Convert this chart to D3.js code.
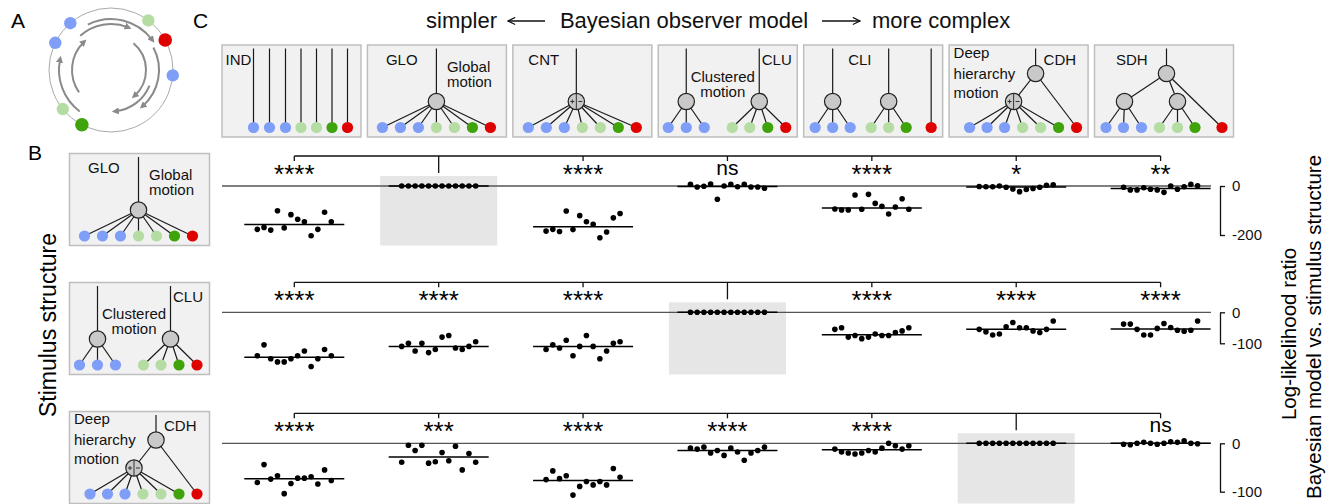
<!DOCTYPE html>
<html>
<head>
<meta charset="utf-8">
<script src="https://cdn.jsdelivr.net/npm/d3@7"></script>
<style>
body { margin: 0; background: #fff; }
svg { display: block; font-family: "Liberation Sans", Arial, Helvetica, sans-serif; }
</style>
</head>
<body>
<svg id="chart" width="1333" height="504"></svg>
<script>
// models, left = simpler, right = more complex
const models = ['IND', 'GLO', 'CNT', 'CLU', 'CLI', 'CDH', 'SDH'];

// log-likelihood ratio (model vs stimulus structure), 12 subjects per model
const llrGLO = [
    [-177, -169, -180, -101, -171, -117, -136, -146, -203, -177, -107, -146],
    [0, 0, 0, 0, 0, 0, 0, 0, 0, 0, 0, 0],
    [-184, -177, -186, -102, -178, -121, -146, -156, -211, -188, -130, -112],
    [7, -4, -1, 8, -54, 0, 7, -3, 7, -4, -4, -9],
    [-94, -98, -98, -37, -95, -34, -71, -83, -114, -86, -52, -95],
    [-2, -3, -3, 0, -5, -12, -23, -14, -10, -5, 3, 5],
    [-5, -16, -16, -7, -13, -16, -26, 0, -13, -3, 7, 1]
];
const llrCLU = [
    [-140, -105, -150, -160, -160, -150, -140, -125, -175, -150, -120, -140],
    [-110, -100, -125, -100, -130, -120, -80, -75, -115, -120, -110, -95],
    [-120, -105, -115, -90, -140, -110, -75, -110, -150, -125, -100, -95],
    [0, 0, 0, 0, 0, 0, 0, 0, 0, 0, 0, 0],
    [-55, -50, -80, -75, -85, -80, -70, -75, -75, -65, -60, -50],
    [-55, -63, -73, -70, -47, -33, -50, -50, -60, -65, -55, -28],
    [-38, -38, -55, -73, -73, -52, -36, -49, -58, -61, -58, -28]
];
const llrCDH = [
    [-81, -44, -74, -67, -104, -83, -72, -72, -69, -84, -55, -77],
    [-39, -4, -15, -4, -41, -38, -19, -36, -6, -55, -21, -39],
    [-75, -57, -73, -67, -107, -89, -79, -86, -79, -86, -52, -70],
    [-10, -12, -8, -20, -15, -25, -10, -18, -35, -20, -15, -8],
    [-12, -18, -20, -22, -20, -15, -18, -10, 0, -5, -12, -5],
    [0, 0, 0, 0, 0, 0, 0, 0, 0, 0, 0, 0],
    [-2, -3, 0, 2, 0, -2, 0, 3, 2, 5, 0, -1]
];

// significance vs the true structure (null = the true structure itself)
const sigGLO = ['****', null, '****', 'ns', '****', '*', '**'];
const sigCLU = ['****', '****', '****', null, '****', '****', '****'];
const sigCDH = ['****', '***', '****', '****', '****', null, 'ns'];

const ticksGLO = [0, -200];
const ticksCLU = [0, -100];
const ticksCDH = [0, -100];

// panel A: dots on the ring (degrees, clockwise from top)
const ringAngles = [-41, -64, 37, 61, 95, -129, -152];
const ringColors = ['#7f9ef8', '#7f9ef8', '#b5dca2', '#df0000', '#7f9ef8', '#b5dca2', '#3fa30c'];

const leafColors = ['#7f9ef8', '#7f9ef8', '#7f9ef8', '#b5dca2', '#b5dca2', '#3fa30c', '#df0000'];

const svg = d3.select('#chart');

//arrow marker
svg.append('defs').append('marker')
    .attr('id', 'head')
    .attr('viewBox', '0 0 10 10')
    .attr('refX', 5).attr('refY', 5)
    .attr('markerWidth', 7).attr('markerHeight', 7)
    .attr('markerUnits', 'userSpaceOnUse')
    .attr('orient', 'auto')
    .append('path')
    .attr('d', 'M0,0L10,5L0,10z')
    .attr('fill', '#8a8a8a');

svg.append('defs').append('marker')
    .attr('id', 'titlehead')
    .attr('viewBox', '0 0 10 10')
    .attr('refX', 9).attr('refY', 5)
    .attr('markerWidth', 9).attr('markerHeight', 9)
    .attr('markerUnits', 'userSpaceOnUse')
    .attr('orient', 'auto')
    .append('path')
    .attr('d', 'M1,1L9,5L1,9')
    .attr('fill', 'none')
    .attr('stroke', '#111')
    .attr('stroke-width', 1.3);

//panel letters
[['A', 11, 28], ['C', 193, 28], ['B', 28, 160]].forEach(([t, x, y]) => {
    svg.append('text').attr('x', x).attr('y', y).attr('font-size', 21).text(t)
})

// ---------- panel A ----------
const ringG = svg.append('g').attr('transform', 'translate(111,70)')
ringG.append('circle').attr('r', 62).attr('fill', 'none').attr('stroke', '#aaa').attr('stroke-width', 1)

const rad = a => (a - 90) * Math.PI / 180
const arcs = [[52, -143, -78], [39, -125, -44], [46, -42, 22], [51, -27, 54], [35, 40, 138], [48, 62, 139], [41.5, 112, 174]]
arcs.forEach(([r, a0, a1]) => {
    const p = d3.path()
    p.moveTo(r * Math.cos(rad(a0)), r * Math.sin(rad(a0)))
    p.arc(0, 0, r, rad(a0), rad(a1), false)
    ringG.append('path')
        .attr('d', p.toString())
        .attr('fill', 'none')
        .attr('stroke', '#8a8a8a')
        .attr('stroke-width', 2)
        .attr('marker-end', 'url(#head)')
})
ringG.selectAll('.ringdot')
    .data(ringAngles)
    .join('circle')
    .attr('class', 'ringdot')
    .attr('cx', d => 62 * Math.cos(rad(d)))
    .attr('cy', d => 62 * Math.sin(rad(d)))
    .attr('r', (d, i) => ringColors[i] === '#df0000' || ringColors[i] === '#3fa30c' ? 6.8 : 6.2)
    .attr('fill', (d, i) => ringColors[i])

// ---------- tree glyphs ----------
function treeSpec(name) {
    const L = i => 'L' + i, H = i => 'H' + i
    const idx = [0, 1, 2, 3, 4, 5, 6]
    switch (name) {
        case 'IND': return {leaves: [32, 48, 64, 79.5, 95, 110.5, 126], hubs: [], links: [], roots: idx.map(L)}
        case 'GLO': return {leaves: [15.5, 33.5, 51.5, 69.5, 87.5, 105.5, 123.5], hubs: [{x: 69.5, y: 57}],
            links: idx.map(i => [L(i), H(0)]), roots: [H(0)]}
        case 'CNT': return {leaves: [16, 34, 52, 70, 88, 106, 124], hubs: [{x: 64, y: 57, split: true}],
            links: idx.map(i => [L(i), H(0)]), roots: [H(0)]}
        case 'CLU': return {leaves: [10.5, 28.5, 46.5, 74.5, 92, 110, 128], hubs: [{x: 28.5, y: 57}, {x: 101.5, y: 57}],
            links: idx.map(i => [L(i), H(i < 3 ? 0 : 1)]), roots: [H(0), H(1)]}
        case 'CLI': return {leaves: [12, 29.5, 47, 68, 85.5, 103, 128], hubs: [{x: 29.5, y: 57}, {x: 85.5, y: 57}],
            links: idx.slice(0, 6).map(i => [L(i), H(i < 3 ? 0 : 1)]), roots: [H(0), H(1), L(6)]}
        case 'CDH': return {leaves: [21, 38.5, 56, 74, 92, 110, 128], hubs: [{x: 87, y: 29}, {x: 65, y: 57, split: true}],
            links: idx.slice(0, 6).map(i => [L(i), H(1)]).concat([[H(1), H(0)], [L(6), H(0)]]), roots: [H(0)]}
        case 'SDH': return {leaves: [12, 29.5, 47.5, 65.5, 83.5, 101, 128], hubs: [{x: 72.5, y: 29}, {x: 30.5, y: 57}, {x: 83.5, y: 57}],
            links: idx.slice(0, 6).map(i => [L(i), H(i < 3 ? 1 : 2)]).concat([[H(1), H(0)], [H(2), H(0)], [L(6), H(0)]]), roots: [H(0)]}
    }
}

const treeLabels = {
    IND: [['IND', 4, 20]],
    GLO: [['GLO', 19, 20], ['Global', 80, 27], ['motion', 80, 42]],
    CNT: [['CNT', 16, 20]],
    CLU: [['CLU', 104, 20], ['Clustered', 65, 37, 'middle'], ['motion', 65, 52, 'middle']],
    CLI: [['CLI', 45, 20]],
    CDH: [['Deep', 5, 13], ['hierarchy', 5, 34], ['motion', 5, 53], ['CDH', 95, 20]],
    SDH: [['SDH', 22, 20]]
}

function drawTree(g, name, w, h) {
    g.append('rect')
        .attr('x', 0.5).attr('y', 0.5)
        .attr('width', w).attr('height', h)
        .attr('fill', '#f1f1f1')
        .attr('stroke', '#bebebe')
        .attr('stroke-width', 1.5)

    const spec = treeSpec(name),
          leafY = 83
    const pos = ref => {
        const i = +ref.slice(1)
        return ref[0] === 'L' ? {x: spec.leaves[i], y: leafY} : spec.hubs[i]
    }
    const lines = g.append('g').attr('stroke', '#1a1a1a').attr('stroke-width', 1.2)
    spec.roots.forEach(r => {
        const p = pos(r)
        lines.append('line').attr('x1', p.x).attr('x2', p.x).attr('y1', 4).attr('y2', p.y)
    })
    spec.links.forEach(([a, b]) => {
        const p = pos(a), q = pos(b)
        lines.append('line').attr('x1', p.x).attr('y1', p.y).attr('x2', q.x).attr('y2', q.y)
    })

    g.selectAll('.leaf')
        .data(spec.leaves)
        .join('circle')
        .attr('class', 'leaf')
        .attr('cx', d => d).attr('cy', leafY)
        .attr('r', 5.6)
        .attr('fill', (d, i) => leafColors[i])

    spec.hubs.forEach(hb => {
        g.append('circle').attr('cx', hb.x).attr('cy', hb.y).attr('r', 8.2)
            .attr('fill', '#c9c9c9').attr('stroke', '#222').attr('stroke-width', 1.2)
        if (hb.split) {
            const s = g.append('g').attr('stroke', '#333').attr('stroke-width', 1)
            s.append('line').attr('x1', hb.x).attr('x2', hb.x).attr('y1', hb.y - 8).attr('y2', hb.y + 8)
            s.append('line').attr('x1', hb.x - 6).attr('x2', hb.x - 2).attr('y1', hb.y).attr('y2', hb.y)
            s.append('line').attr('x1', hb.x - 4).attr('x2', hb.x - 4).attr('y1', hb.y - 2).attr('y2', hb.y + 2)
            s.append('line').attr('x1', hb.x + 2).attr('x2', hb.x + 6).attr('y1', hb.y).attr('y2', hb.y)
        }
    })

    treeLabels[name].forEach(([t, x, y, anchor]) => {
        g.append('text').attr('x', x).attr('y', y)
            .attr('font-size', 15)
            .attr('text-anchor', anchor || 'start')
            .attr('fill', '#111')
            .text(t)
    })
}

// ---------- panel C: model row ----------
const boxX = d3.scalePoint().domain(models).range([221.5, 1094])
models.forEach(m => drawTree(svg.append('g').attr('transform', `translate(${boxX(m)},44.5)`), m, 139, 92))

const title = svg.append('g').attr('font-size', 22).attr('fill', '#111')
title.append('text').attr('x', 497).attr('y', 28).attr('text-anchor', 'end').text('simpler')
title.append('text').attr('x', 684).attr('y', 28).attr('text-anchor', 'middle').text('Bayesian observer model')
title.append('text').attr('x', 872).attr('y', 28).text('more complex')
;[[545, 508], [822, 860]].forEach(([x1, x2]) => {
    svg.append('line').attr('x1', x1).attr('x2', x2).attr('y1', 21).attr('y2', 21)
        .attr('stroke', '#111').attr('stroke-width', 1.3).attr('marker-end', 'url(#titlehead)')
})

// ---------- panel B: likelihood ratios ----------
const colX = d3.scalePoint().domain(models).range([294.3, 1160.6])
const subjX = d3.scaleLinear().domain([0, 11]).range([-37, 37])

const rows = [
    {stim: 'GLO', data: llrGLO, sig: sigGLO, ticks: ticksGLO, top: 153, zero: 186, low: 235},
    {stim: 'CLU', data: llrCLU, sig: sigCLU, ticks: ticksCLU, top: 282, zero: 312.3, low: 343.3},
    {stim: 'CDH', data: llrCDH, sig: sigCDH, ticks: ticksCDH, top: 411, zero: 443.3, low: 491.7}
]

rows.forEach(row => {
    const y = d3.scaleLinear().domain(row.ticks).range([row.zero, row.low])
    drawTree(svg.append('g').attr('transform', `translate(69,${row.top})`), row.stim, 140, 92)

    const g = svg.append('g')
    const refX = colX(row.stim)

    //shading behind the true structure
    g.append('rect')
        .attr('x', refX - 58.5)
        .attr('y', y(0) - 10)
        .attr('width', 117)
        .attr('height', row.top + 92.5 - (y(0) - 10))
        .attr('fill', '#e6e6e6')

    g.append('line')
        .attr('x1', 222).attr('x2', 1211)
        .attr('y1', y(0)).attr('y2', y(0))
        .attr('stroke', '#555').attr('stroke-width', 1.3)

    models.forEach((m, i) => {
        const vals = row.data[i],
              cx = colX(m)
        g.append('line')
            .attr('x1', cx - 50).attr('x2', cx + 50)
            .attr('y1', y(d3.median(vals))).attr('y2', y(d3.median(vals)))
            .attr('stroke', '#000').attr('stroke-width', 1.5)
        g.selectAll(null)
            .data(vals)
            .join('circle')
            .attr('cx', (d, j) => cx + subjX(j))
            .attr('cy', d => y(d))
            .attr('r', 2.8)
            .attr('fill', '#000')
    })

    //significance bracket
    const by = y(0) - 30
    g.append('line')
        .attr('x1', colX(models[0])).attr('x2', colX(models[6]))
        .attr('y1', by).attr('y2', by)
        .attr('stroke', '#111').attr('stroke-width', 1.3)
    models.forEach((m, i) => {
        const s = row.sig[i]
        g.append('line')
            .attr('x1', colX(m)).attr('x2', colX(m))
            .attr('y1', by).attr('y2', s === null ? y(0) - 13 : by + 5)
            .attr('stroke', '#111').attr('stroke-width', 1.3)
        if (s === null) return
        if (s === 'ns') {
            g.append('text').attr('x', colX(m)).attr('y', y(0) - 11)
                .attr('text-anchor', 'middle').attr('font-size', 21).text(s)
        } else {
            g.append('text').attr('x', colX(m)).attr('y', y(0) - 3)
                .attr('text-anchor', 'middle').attr('font-size', 26).text(s)
        }
    })

    //axis
    const ax = g.append('g')
        .attr('transform', 'translate(1220,0)')
        .call(d3.axisRight(y).tickValues(row.ticks).tickSize(5).tickSizeOuter(0).tickPadding(7).tickFormat(d => String(d)))
    ax.select('.domain').attr('stroke', '#111').attr('stroke-width', 1.3)
    ax.selectAll('.tick line').attr('stroke', '#111').attr('stroke-width', 1.3)
    ax.selectAll('text').attr('font-size', 15).attr('font-family', null).attr('fill', '#111')
})

// axis titles
svg.append('text')
    .attr('transform', 'translate(56,325) rotate(-90)')
    .attr('text-anchor', 'middle')
    .attr('font-size', 23)
    .text('Stimulus structure')
svg.append('text')
    .attr('transform', 'translate(1296,334) rotate(-90)')
    .attr('text-anchor', 'middle')
    .attr('font-size', 20.5)
    .text('Log-likelihood ratio')
svg.append('text')
    .attr('transform', 'translate(1321,327) rotate(-90)')
    .attr('text-anchor', 'middle')
    .attr('font-size', 20.5)
    .text('Bayesian model vs. stimulus structure')
</script>
</body>
</html>
